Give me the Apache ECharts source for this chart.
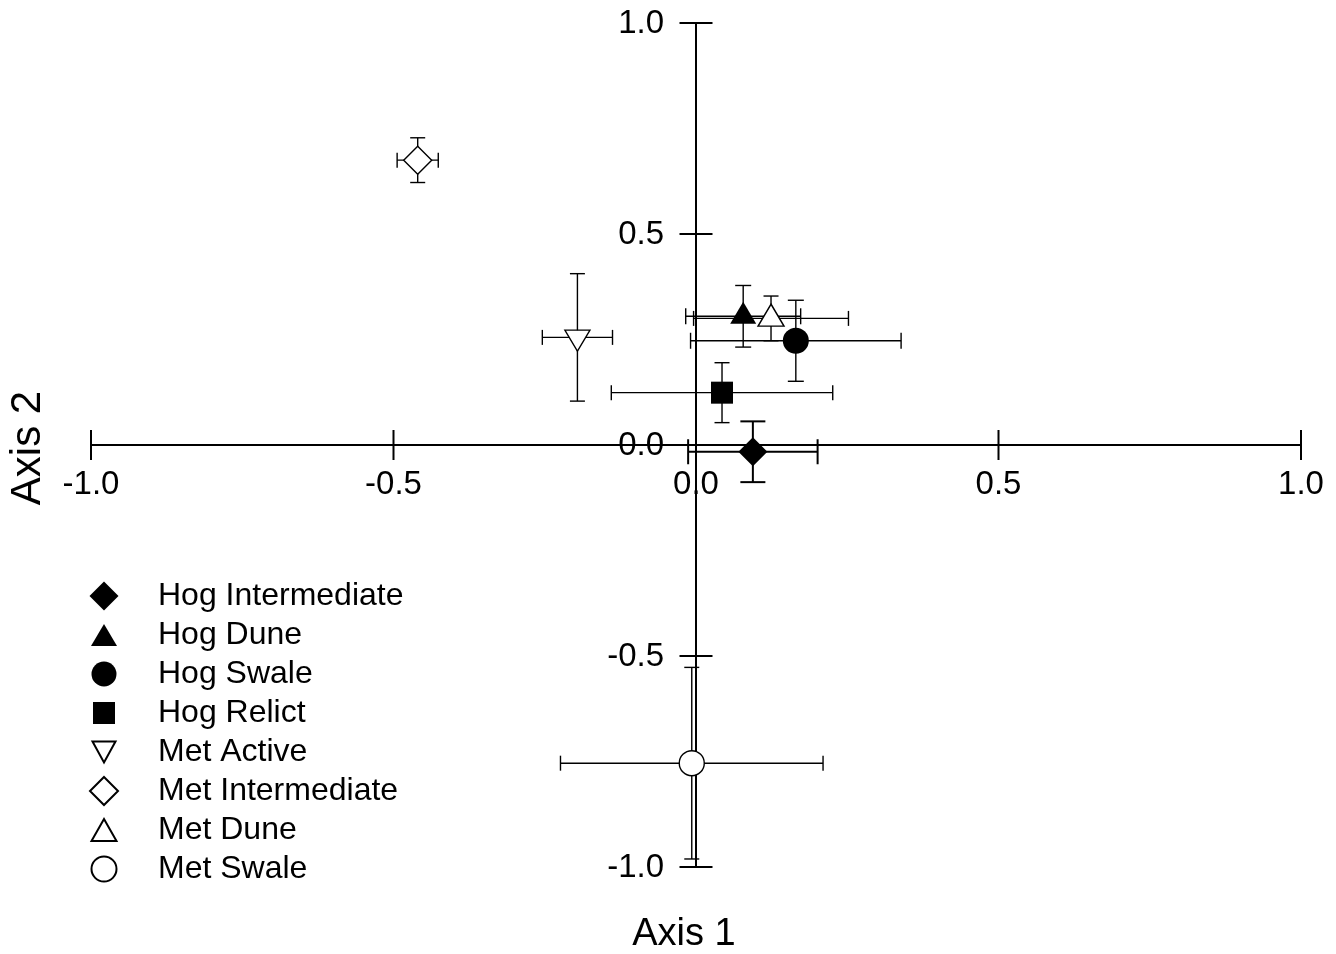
<!DOCTYPE html>
<html><head><meta charset="utf-8">
<script src="https://cdn.jsdelivr.net/npm/echarts@6.0.0/dist/echarts.min.js"></script>
<style>html,body{margin:0;padding:0;background:#fff}#chart{width:1336px;height:954px}</style>
</head><body><div id="chart"></div>
<script>
// ---- data ----
const groups = ['Hog Intermediate','Hog Dune','Hog Swale','Hog Relict','Met Active','Met Intermediate','Met Dune','Met Swale'];
const axis1 = [0.094, 0.078, 0.165, 0.043, -0.196, -0.460, 0.124, -0.007];
const axis2 = [-0.016, 0.305, 0.247, 0.124, 0.255, 0.675, 0.300, -0.754];
const err1  = [0.107, 0.095, 0.174, 0.183, 0.058, 0.034, 0.128, 0.217];
const err2  = [0.072, 0.073, 0.096, 0.071, 0.151, 0.053, 0.053, 0.227];
const xTicks = [-1.0, -0.5, 0.0, 0.5, 1.0];
const yTicks = [-1.0, -0.5, 0.0, 0.5, 1.0];
const xTickLabels = ['-1.0', '-0.5', '0.0', '0.5', '1.0'];
const yTickLabels = ['-1.0', '-0.5', '0.0', '0.5', '1.0'];

// ---- styling ----
const FONT = "'Liberation Sans', Arial, Helvetica, sans-serif";
const DOWN_TRI = 'path://M0,0L20,0L10,17Z';
const markerStyle = {
  'Hog Intermediate': {symbol:'diamond',  size:[29,29], fill:'#000', offset:[0,0]},
  'Hog Dune':         {symbol:'triangle', size:[26,22], fill:'#000', offset:[0,-3.5]},
  'Hog Swale':        {symbol:'circle',   size:26,      fill:'#000', offset:[0,0]},
  'Hog Relict':       {symbol:'rect',     size:22,      fill:'#000', offset:[0,0]},
  'Met Active':       {symbol:DOWN_TRI,   size:[25,21], fill:'#fff', offset:[0,3.3]},
  'Met Intermediate': {symbol:'diamond',  size:[28,28], fill:'#fff', offset:[0,0]},
  'Met Dune':         {symbol:'triangle', size:[26,22], fill:'#fff', offset:[0,-3.3]},
  'Met Swale':        {symbol:'circle',   size:25,      fill:'#fff', offset:[0,0]}
};
const legendIcons = {
  'Hog Intermediate': 'path://M0,0M30,30M15,0.5L29.5,15L15,29.5L0.5,15Z',
  'Hog Dune':         'path://M0,0M30,30M15,4L28,26L2,26Z',
  'Hog Swale':        'path://M0,0M30,30M2.5,15A12.5,12.5,0,1,1,27.5,15A12.5,12.5,0,1,1,2.5,15Z',
  'Hog Relict':       'path://M0,0M30,30M4,4L26,4L26,26L4,26Z',
  'Met Active':       'path://M0,0M30,30M3.5,4.5L26.5,4.5L15,25.5Z',
  'Met Intermediate': 'path://M0,0M30,30M15,1L29,15L15,29L1,15Z',
  'Met Dune':         'path://M0,0M30,30M15,4L27.5,26L2.5,26Z',
  'Met Swale':        'path://M0,0M30,30M2.5,15A12.5,12.5,0,1,1,27.5,15A12.5,12.5,0,1,1,2.5,15Z'
};
const errStyle = {
  'Hog Intermediate': {cap:12.5, w:2},
  'Hog Dune': {cap:8, w:1.4},
  'Hog Swale': {cap:8, w:1.4},
  'Hog Relict': {cap:7.5, w:1.4},
  'Met Active': {cap:7.5, w:1.4},
  'Met Intermediate': {cap:7.5, w:1.4},
  'Met Dune': {cap:7.5, w:1.4},
  'Met Swale': {cap:7.5, w:1.4}
};

const chart = echarts.init(document.getElementById('chart'), null, {renderer:'canvas'});

function renderErr(params, api) {
  const g = groups[params.dataIndex];
  const st = errStyle[g];
  const x = api.value(0), y = api.value(1), ex = api.value(2), ey = api.value(3);
  const L = api.coord([x - ex, y]), R = api.coord([x + ex, y]);
  const T = api.coord([x, y + ey]), B = api.coord([x, y - ey]);
  const ls = {stroke:'#000', lineWidth:st.w};
  const c = st.cap;
  return {type:'group', children:[
    {type:'line', shape:{x1:L[0], y1:L[1], x2:R[0], y2:R[1]}, style:ls},
    {type:'line', shape:{x1:L[0], y1:L[1]-c, x2:L[0], y2:L[1]+c}, style:ls},
    {type:'line', shape:{x1:R[0], y1:R[1]-c, x2:R[0], y2:R[1]+c}, style:ls},
    {type:'line', shape:{x1:T[0], y1:T[1], x2:B[0], y2:B[1]}, style:ls},
    {type:'line', shape:{x1:T[0]-c, y1:T[1], x2:T[0]+c, y2:T[1]}, style:ls},
    {type:'line', shape:{x1:B[0]-c, y1:B[1], x2:B[0]+c, y2:B[1]}, style:ls}
  ]};
}

const series = [];
// x-axis ticks (crossing both sides of the axis line) + labels
series.push({
  type:'custom', name:'xticks', silent:true, z:1,
  data: xTicks.map(v => [v, 0]),
  encode:{x:0, y:1},
  renderItem(params, api){
    const p = api.coord([api.value(0), api.value(1)]);
    return {type:'group', children:[
      {type:'line', shape:{x1:p[0], y1:p[1]-15, x2:p[0], y2:p[1]+15}, style:{stroke:'#000', lineWidth:2}},
      {type:'text', x:p[0], y:p[1]+40, style:{text:xTickLabels[params.dataIndex], fontSize:33, fontFamily:FONT, fill:'#000', align:'center', verticalAlign:'middle'}}
    ]};
  }
});
series.push({
  type:'custom', name:'yticks', silent:true, z:1,
  data: yTicks.map(v => [0, v]),
  encode:{x:0, y:1},
  renderItem(params, api){
    const p = api.coord([api.value(0), api.value(1)]);
    return {type:'group', children:[
      {type:'line', shape:{x1:p[0]-16.5, y1:p[1], x2:p[0]+16.5, y2:p[1]}, style:{stroke:'#000', lineWidth:2}},
      {type:'text', x:p[0]-32, y:p[1]+1, style:{text:yTickLabels[params.dataIndex], fontSize:33, fontFamily:FONT, fill:'#000', align:'right', verticalAlign:'middle'}}
    ]};
  }
});
// error bars
series.push({
  type:'custom', name:'errorbars', silent:true, z:2,
  data: groups.map((g, i) => [axis1[i], axis2[i], err1[i], err2[i]]),
  encode:{x:0, y:1},
  renderItem: renderErr
});
// group means
groups.forEach((g, i) => {
  const m = markerStyle[g];
  series.push({
    type:'scatter', name:g, z:5,
    symbol:m.symbol, symbolSize:m.size, symbolOffset:m.offset,
    itemStyle:{color:m.fill, borderColor:'#000', borderWidth: m.fill === '#fff' ? 1.4 : 0, opacity:1},
    emphasis:{disabled:true},
    data:[[axis1[i], axis2[i]]]
  });
});

const axisCommon = {
  type:'value', min:-1, max:1, interval:0.5,
  splitLine:{show:false},
  axisTick:{show:false},
  axisLabel:{show:false},
  axisLine:{show:true, onZero:true, lineStyle:{color:'#000', width:2}}
};

chart.setOption({
  animation:false,
  backgroundColor:'#fff',
  grid:{left:91, right:35, top:23, bottom:87, containLabel:false, outerBoundsMode:'none'},
  xAxis: axisCommon,
  yAxis: axisCommon,
  legend:{
    orient:'vertical', left:88, top:580, padding:0,
    itemWidth:30, itemHeight:30, itemGap:7,
    selectedMode:false,
    data: groups.map(g => ({name:g, icon:legendIcons[g]})),
    textStyle:{color:'#000', fontSize:32, fontFamily:FONT, lineHeight:30, padding:[0,0,0,34]}
  },
  graphic:[
    {type:'text', x:684, y:935, style:{text:'Axis 1', fontSize:38, fontFamily:FONT, fill:'#000', align:'center', verticalAlign:'middle'}},
    {type:'text', x:28, y:448, rotation:Math.PI/2, style:{text:'Axis 2', fontSize:42, fontFamily:FONT, fill:'#000', align:'center', verticalAlign:'middle'}}
  ],
  series: series
});
</script>
</body></html>
